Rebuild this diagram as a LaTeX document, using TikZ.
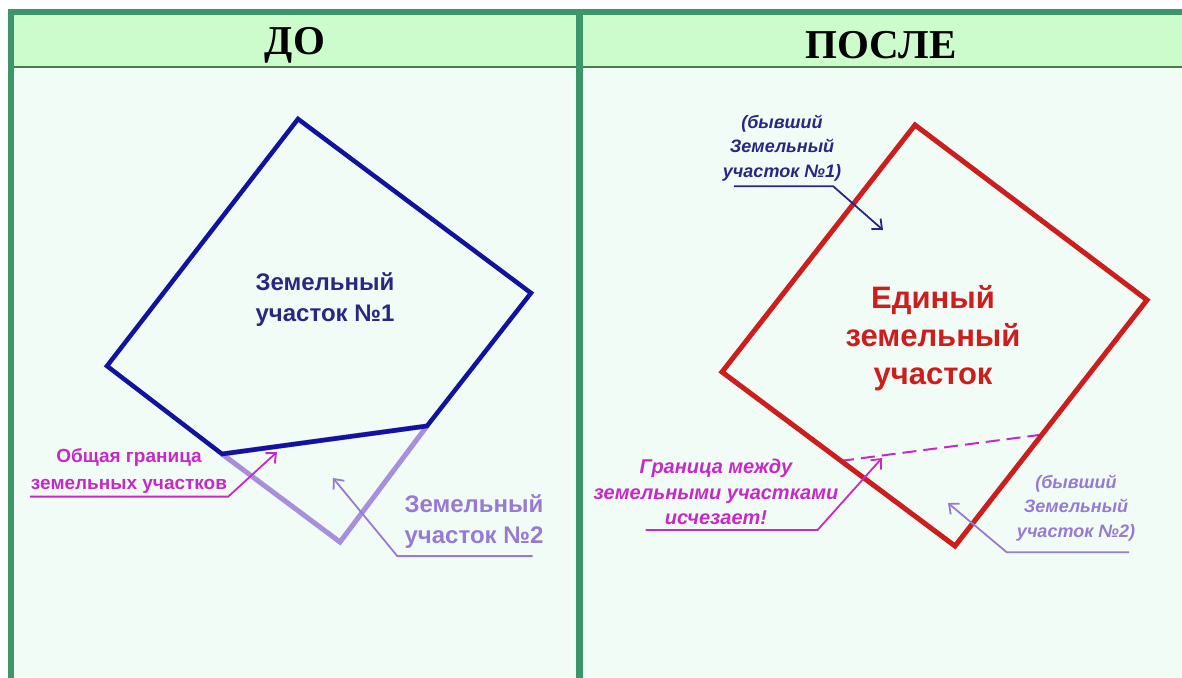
\documentclass[tikz,border=0pt]{standalone}
\usepackage{fontspec}
\setmainfont{Liberation Serif}
\newfontfamily\arialf{Liberation Sans}
\usetikzlibrary{arrows.meta,positioning}
\definecolor{framegreen}{RGB}{60,150,105}
\definecolor{headfill}{RGB}{204,252,204}
\definecolor{bodyfill}{RGB}{242,252,246}
\definecolor{plotblue}{RGB}{18,18,160}
\definecolor{plotnavy}{RGB}{40,40,130}
\definecolor{plotlilac}{RGB}{168,142,222}
\definecolor{textlilac}{RGB}{150,122,212}
\definecolor{plotred}{RGB}{205,30,30}
\definecolor{plotmag}{RGB}{200,40,200}
\tikzset{head/.style={font=\bfseries\fontsize{41}{44}\selectfont},
lbl/.style={font=\arialf\bfseries\fontsize{24}{31}\selectfont,align=center,inner sep=1pt},
note/.style={font=\arialf\bfseries\itshape\fontsize{18}{24.5}\selectfont,align=center,inner sep=1pt},
leader/.style={line width=1.8pt,-{Straight Barb[length=8pt,width=14pt]}}}
\newcommand{\Underline}[4][]{\draw[#1] (#2) -- (#3) -- (#4);
}

\begin{document}
\begin{tikzpicture}[x=1pt,y=-1pt]
    \useasboundingbox (0,0) rectangle (1182,677);
    \fill[white] (0,0) rectangle (1182,677);
    % panels
    \begin{scope}
    \clip (0,0) rectangle (1182,677);
    \fill[bodyfill] (11,13) rectangle (1190,690);
    \fill[headfill] (11,13) rectangle (1190,67);
    \draw[black!55!green!40!gray,line width=1.2pt] (11,67) -- (1190,67);
    \draw[framegreen,line width=6pt] (11,690) -- (11,12.5) -- (1190,12.5);
    \draw[framegreen,line width=7pt] (579,12.5) -- (579,690);
    \end{scope}
    \node[head] (before) at (295,45) {ДО};
    \node[head] (after) at (881,45) {ПОСЛЕ};
    % plots before
    \coordinate (a1) at (298,119);
    \coordinate (a2) at (531,293);
    \coordinate (a3) at (427,426);
    \coordinate (a4) at (222,454);
    \coordinate (a5) at (107,366);
    \coordinate (b1) at (340,542);
    \draw[plotlilac,line width=5pt] (a4) -- (b1) -- (a3);
    \draw[plotlilac,line width=5pt,yshift=-2pt] (a4) -- (a3);
    \draw[plotblue,line width=4.5pt] (a1) -- (a2) -- (a3) -- (a4) -- (a5) -- cycle;
    \node[lbl,plotnavy] (plot-one) at (325,300) {Земельный\\участок №1};
    \node[lbl,textlilac] (plot-two) at (474,522) {Земельный\\участок №2};
    \node[lbl,plotmag,font=\arialf\bfseries\fontsize{19}{27}\selectfont] (border) at (129,471) {Общая граница\\земельных участков};
    \coordinate (tip-border) at (277,452);
    \coordinate (tip-two) at (333,478);
    % plot after
    \coordinate (c1) at (915,125);
    \coordinate (c2) at (1147,300);
    \coordinate (c3) at (955,546);
    \coordinate (c4) at (722,372);
    \coordinate (d1) at (840,461);
    \coordinate (d2) at (1039,435);
    \draw[plotmag,line width=2pt,dash pattern=on 14pt off 7pt] (d1) -- (d2);
    \draw[plotred,line width=5pt] (c1) -- (c2) -- (c3) -- (c4) -- cycle;
    \node[lbl,plotred,font=\arialf\bfseries\fontsize{31}{38}\selectfont] (united) at (933,338) {Единый\\земельный\\участок};
    \node[note,plotnavy] (former-one) at (782,148) {(бывший\\Земельный\\участок №1)};
    \node[note,plotmag,font=\arialf\bfseries\itshape\fontsize{20}{25.5}\selectfont] (vanish) at (716,492) {Граница между\\земельными участками\\исчезает!};
    \node[note,textlilac] (former-two) at (1076,508) {(бывший\\Земельный\\участок №2)};
    \coordinate (tip-one) at (883,230);
    \coordinate (tip-vanish) at (882,458);
    \coordinate (tip-former) at (948,503);
    % links
    \Underline[leader,plotmag]{[yshift=-2pt]border.south west}{[yshift=-2pt]border.south east}{tip-border}
    \Underline[leader,textlilac]{[xshift=-12pt,yshift=-6pt]plot-two.south east}{[xshift=-6pt,yshift=-6pt]plot-two.south west}{tip-two}
    \Underline[leader,plotnavy]{[xshift=12pt,yshift=-4pt]former-one.south west}{[xshift=-9pt,yshift=-4pt]former-one.south east}{tip-one}
    \Underline[leader,plotmag]{[xshift=53pt,yshift=-4pt]vanish.south west}{[xshift=-22pt,yshift=-4pt]vanish.south east}{tip-vanish}
    \Underline[leader,textlilac]{[xshift=-7pt,yshift=-10pt]former-two.south east}{[xshift=-9pt,yshift=-10pt]former-two.south west}{tip-former}
\end{tikzpicture}
\end{document}
